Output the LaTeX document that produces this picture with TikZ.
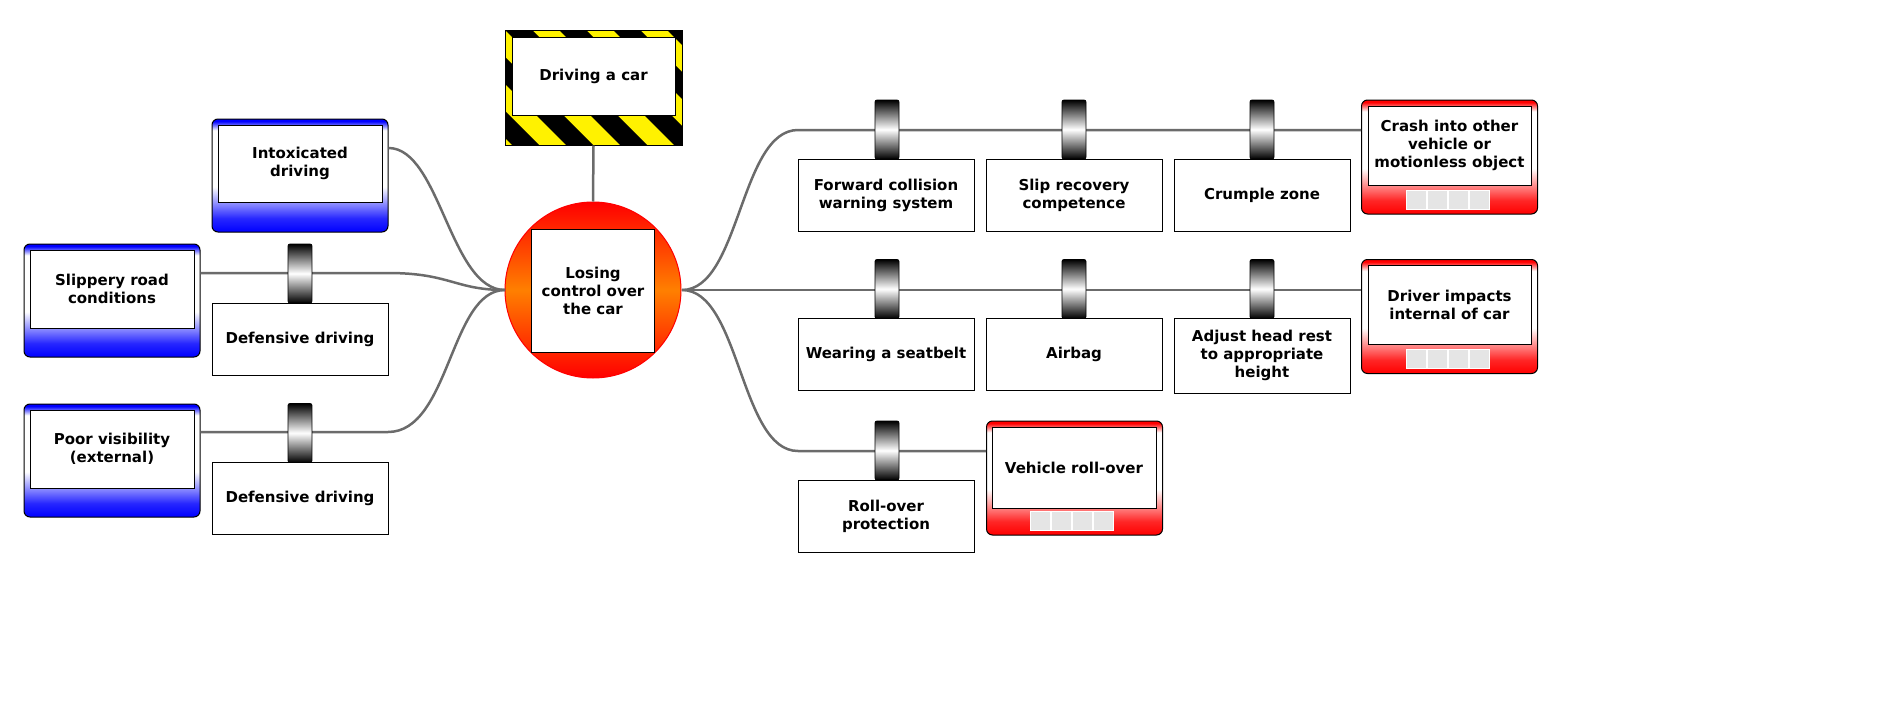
\documentclass[tikz,border=0pt]{standalone}
\usepackage{fontspec}
\setmainfont{DejaVu Sans}
\pgfdeclareverticalshading{threatsh}{100bp}{color(0bp)=(blue); color(25bp)=(blue); color(31bp)=(blue!85); color(45bp)=(white); color(70bp)=(white); color(74bp)=(blue); color(100bp)=(blue)}
\pgfdeclareverticalshading{conssh}{100bp}{color(0bp)=(red); color(25bp)=(red); color(31bp)=(red!85); color(45bp)=(white); color(70bp)=(white); color(74bp)=(red); color(100bp)=(red)}
\pgfdeclareverticalshading{barsh}{100bp}{color(0bp)=(black); color(25bp)=(black); color(50bp)=(white); color(75bp)=(black); color(100bp)=(black)}
\pgfdeclareverticalshading{topsh}{100bp}{color(0bp)=(red); color(25bp)=(red); color(50bp)=(orange); color(75bp)=(red); color(100bp)=(red)}
\begin{document}
\begin{tikzpicture}[x=1pt,y=-1pt,
  every node/.style={font=\fontsize{15}{18}\selectfont\bfseries, align=center, inner sep=0pt},
  conn/.style={draw=black!58, line width=2.5pt},
  box/.style={draw=black, fill=white, line width=1pt, minimum width=176pt, minimum height=72pt},
  inner/.style={draw=black, fill=white, line width=1pt},
  threat/.style={draw=black, line width=1pt, rounded corners=6pt, shading=threatsh, minimum width=176pt, minimum height=113pt},
  cons/.style={draw=black, line width=1pt, rounded corners=6pt, shading=conssh, minimum width=176pt, minimum height=114pt},
  bar/.style={draw=black, line width=0.8pt, rounded corners=2pt, shading=barsh, minimum width=24pt, minimum height=59pt},
  sq/.style={draw=white, line width=1pt, fill=black!10, minimum width=20.5pt, minimum height=19pt}
]
% top event
\node[circle, draw=red, line width=1pt, shading=topsh, minimum size=176pt] (top) at (593,290) {};
\node[inner, minimum width=123pt, minimum height=123pt] (topt) at (593,290.5) {Losing\\control over\\the car};

% hazard
\begin{scope}
\clip (505,30) rectangle (682,145);
\fill[yellow] (505,30) rectangle (682,145);
\foreach \i in {-6,...,6} {
  \fill[black] ({505+\i*54},30) -- ({532+\i*54},30) -- ({532+\i*54+115},145) -- ({505+\i*54+115},145) -- cycle;
}
\end{scope}
\node[draw=black, line width=1pt, minimum width=177pt, minimum height=115pt] (haz) at (593.5,87.5) {};
\node[inner, minimum width=163pt, minimum height=78pt] (hazt) at (593.5,76) {Driving a car};

\coordinate (tl) at (505,290);
\coordinate (tr) at (682,290);
\draw[conn] (haz.south) -- (top.north);

% threats
\node[threat] (th1) at (300,175.5) {};
\node[inner, minimum width=164pt, minimum height=77pt] (th1t) at (300,163.5) {Intoxicated\\driving};
\node[threat] (th2) at (112,300.5) {};
\node[inner, minimum width=164pt, minimum height=78pt] (th2t) at (112,289) {Slippery road\\conditions};
\node[threat] (th3) at (112,460.5) {};
\node[inner, minimum width=164pt, minimum height=78pt] (th3t) at (112,449) {Poor visibility\\(external)};

\draw[conn] (th1.east |- 0,148) .. controls (440,148) and (450,290) .. (tl);
\draw[conn] (th2.east |- 0,273) -- (388,273) .. controls (450,273) and (455,290) .. (tl);
\draw[conn] (th3.east |- 0,432) -- (388,432) .. controls (450,432) and (450,290) .. (tl);

% consequences
\coordinate (r1) at (798,130);
\coordinate (r3) at (798,451);
\node[cons] (c1) at (1449.5,157) {};
\node[cons] (c2) at (1449.5,316.5) {};
\node[cons] (c3) at (1074.5,478) {};
\draw[conn] (tr) .. controls (740,290) and (740,130) .. (r1) -- (c1.west |- r1);
\draw[conn] (tr) -- (c2.west |- tr);
\draw[conn] (tr) .. controls (740,290) and (740,451) .. (r3) -- (c3.west |- r3);

% left barriers
\node[box] (lb1) at (300,339) {Defensive driving};
\node[bar] (lbb1) at (300,273.5) {};
\node[box] (lb2) at (300,498.5) {Defensive driving};
\node[bar] (lbb2) at (300,433) {};

% right barriers
\node[box] (b11) at (886,195) {Forward collision\\warning system};
\node[bar] (bb11) at (887,129.5) {};
\node[box] (b12) at (1074,195) {Slip recovery\\competence};
\node[bar] (bb12) at (1074,129.5) {};
\node[box] (b13) at (1262,195) {Crumple zone};
\node[bar] (bb13) at (1262,129.5) {};

\node[box] (b21) at (886,354.5) {Wearing a seatbelt};
\node[bar] (bb21) at (887,289) {};
\node[box] (b22) at (1074,354.5) {Airbag};
\node[bar] (bb22) at (1074,289) {};
\node[box, minimum height=75pt] (b23) at (1262,355.5) {Adjust head rest\\to appropriate\\height};
\node[bar] (bb23) at (1262,289) {};

\node[box] (b31) at (886,516) {Roll-over\\protection};
\node[bar] (bb31) at (887,450.5) {};

\node[inner, minimum width=163pt, minimum height=79pt] (c1t) at (1449.5,145.5) {Crash into other\\vehicle or\\motionless object};
\node[inner, minimum width=163pt, minimum height=79pt] (c2t) at (1449.5,304.5) {Driver impacts\\internal of car};
\node[inner, minimum width=164pt, minimum height=81pt] (c3t) at (1074,467.5) {Vehicle roll-over};
\foreach \n/\x/\y in {c1/1416.5/199.5, c2/1416.5/359, c3/1040.5/520.5} {
  \foreach \k in {0,...,3} {
    \node[sq] (\n sq\k) at ({\x+\k*21},\y) {};
  }
}
\pgfresetboundingbox
\useasboundingbox (0,0) rectangle (1882,712);
\end{tikzpicture}
\end{document}
